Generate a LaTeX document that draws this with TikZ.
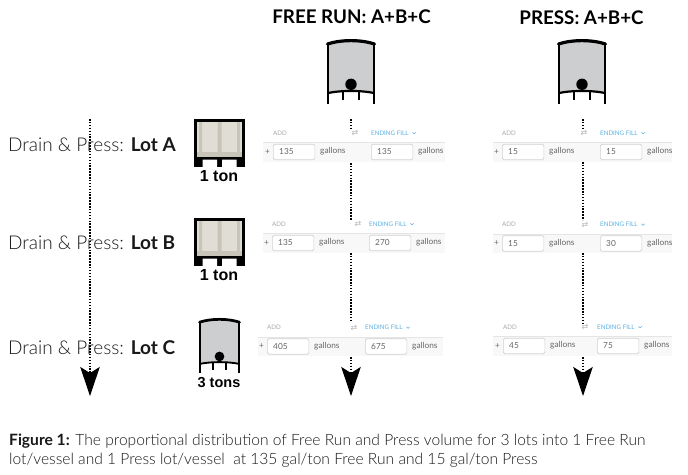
\documentclass[tikz,border=0pt]{standalone}
\usepackage{fontspec}
\setmainfont{Lato}
\newfontfamily\lightf{Lato Light}
\newfontfamily\arialf{Liberation Sans}
\newfontfamily\symf{DejaVu Sans}
\usetikzlibrary{arrows.meta}
\definecolor{txtgray}{HTML}{666666}
\definecolor{hdrgray}{HTML}{A8A8A8}
\definecolor{linkblue}{HTML}{5AB0E2}
\definecolor{band}{HTML}{F8F8F8}
\definecolor{tankfill}{HTML}{CDCED0}
\definecolor{totefill}{HTML}{E0DDD5}
\definecolor{toteedge}{HTML}{C8C5B8}
\def\tw{1}
\tikzset{
  x=1pt,y=-1pt,
  title/.style={font=\bfseries\fontsize{18.8}{22}\selectfont,text=black,inner sep=0pt},
  lotlabel/.style={font=\lightf\fontsize{19}{22}\selectfont,text=black!90,anchor=west,inner sep=0pt},
  tonlabel/.style={font=\arialf\bfseries\fontsize{16}{17}\selectfont,text=black,inner sep=0pt},
  hdr/.style={font=\fontsize{6.2}{7}\selectfont,text=hdrgray,anchor=west,inner sep=0pt},
  fillhdr/.style={font=\fontsize{6.2}{7}\selectfont,text=linkblue,anchor=west,inner sep=0pt},
  formtxt/.style={font=\fontsize{8.3}{9}\selectfont,text=txtgray,anchor=west,inner sep=0pt},
  inputbox/.style={draw=black!18,fill=white,rounded corners=1.5pt,line width=.7pt,minimum width=41.5pt,minimum height=15.5pt,anchor=west,inner sep=0pt},
  dots/.style={line width=1.5pt,dash pattern=on 1.5pt off 1.4pt,black},
  dotarrow/.style={dots,-{Stealth[length=29pt,width=19.5pt,inset=6pt,sep=0pt]}},
  caption/.style={font=\lightf\fontsize{15.6}{21}\selectfont,text=black!90,anchor=west,inner sep=0pt},
  pics/tank/.style={code={
    \fill[tankfill] (-23,-28) .. controls (-10,-32) and (10,-32) .. (23,-28) -- (23,21) .. controls (10,18.3) and (-10,18.3) .. (-23,21) -- cycle;
    \draw[line width=\tw*2.8pt,black] (-23,31.5) -- (-23,-28) (23,-28) -- (23,31.5);
    \draw[line width=\tw*3.2pt,black,line cap=round] (-23.5,-28) .. controls (-10,-32.5) and (10,-32.5) .. (23.5,-28);
    \draw[line width=\tw*2.2pt,black] (-23,21) .. controls (-10,18.3) and (10,18.3) .. (23,21);
    \draw[line width=\tw*2.3pt,black] (-8,19.5) -- (-8,28) (8,19.5) -- (8,28);
    \fill[black] (0,12.3) circle (5.7);
  }},
  pics/tote/.style={code={
    \fill[black] (-25.5,-23) rectangle (25.5,24.5);
    \fill[totefill] (-22.5,-20) rectangle (22.5,15.2);
    \fill[toteedge] (-22.5,10) rectangle (22.5,15.2);
    \fill[toteedge] (-20.5,-20) rectangle (-17.5,10) (17.5,-20) rectangle (20.5,10) (-2,-20) rectangle (2,10);
    \fill[white] (-17,17.5) rectangle (-2.5,25) (2.5,17.5) rectangle (17,25);
  }},
}
\newcommand{\formrow}[9]{%
  % #1 name, #2 band left, #3 band right, #4 centre y, #5 input1 x, #6 input2 x, #7 val1, #8 val2, #9 swap icon x
  \fill[band] (#2,#4-9.5) rectangle (#3,#4+9.5);
  \draw[black!10,line width=.6pt] (#2,#4-9.5) -- (#3,#4-9.5);
  \node[hdr] (#1add) at (#5,#4-19) {ADD};
  \node[fillhdr] (#1end) at (#6,#4-19) {ENDING FILL};
  \draw[linkblue,line width=.5pt] ([xshift=4pt,yshift=.7pt]#1end.east) -- ++(1.5,1.5) -- ++(1.5,-1.5);
  \node[font=\symf\fontsize{8}{8}\selectfont,text=hdrgray!80,inner sep=0pt] (#1swap) at (#9,#4-19) {⇄};
  \node[formtxt] (#1plus) at (#5-8,#4) {+};
  \node[inputbox] (#1in) at (#5,#4) {};
  \node[formtxt] (#1inv) at (#5+6,#4) {#7};
  \node[formtxt] (#1gal) at (#5+47,#4-.5) {gallons};
  \node[inputbox] (#1out) at (#6,#4) {};
  \node[formtxt] (#1outv) at (#6+6,#4) {#8};
  \node[formtxt] (#1galb) at (#6+47,#4-.5) {gallons};
}
\begin{document}
\begin{tikzpicture}
\useasboundingbox (0,0) rectangle (688,474);
\fill[white] (0,0) rectangle (688,474);
\node[title] (tfr) at (351.5,17) {FREE RUN: A+B+C};
\node[title] (tpr) at (581.5,18) {PRESS: A+B+C};
\pic at (351,72) {tank};
\pic at (582,72) {tank};
% forms
\formrow{fa}{263}{445}{152}{273}{371}{135}{135}{355}
\formrow{fb}{263}{445}{243}{272}{369}{135}{270}{358}
\formrow{fc}{258}{443}{346.5}{267}{365}{405}{675}{354}
\formrow{pa}{493}{672}{152}{502}{600}{15}{15}{584}
\formrow{pb}{493}{672}{243.5}{502}{600}{15}{30}{585}
\formrow{pc}{493}{672}{346}{503}{597}{45}{75}{585}
% connectors
\coordinate (ls) at (90,119);
\coordinate (le) at (90,396);
\draw[dotarrow] (ls) -- (le);
\coordinate (f0) at (351,119);
\coordinate (f1) at (351,129);
\coordinate (f2) at (351,163);
\coordinate (f3) at (351,220);
\coordinate (f4) at (351,253);
\coordinate (f5) at (351,322);
\coordinate (f6) at (351,357);
\coordinate (f9) at (351,396);
\draw[dots] (f0) -- (f1);
\draw[dots] (f2) -- (f3);
\draw[dots] (f4) -- (f5);
\draw[dotarrow] (f6) -- (f9);
\coordinate (p0) at (583,119);
\coordinate (p1) at (583,129);
\coordinate (p2) at (583,162);
\coordinate (p3) at (583,220);
\coordinate (p4) at (583,253);
\coordinate (p5) at (583,323);
\coordinate (p6) at (583,357);
\coordinate (p9) at (583,396);
\draw[dots] (p0) -- (p1);
\draw[dots] (p2) -- (p3);
\draw[dots] (p4) -- (p5);
\draw[dotarrow] (p6) -- (p9);
% left column
\node[lotlabel] (la) at (8,145) {Drain \& Press: {\normalfont\bfseries Lot A}};
\node[lotlabel] (lb) at (8,243) {Drain \& Press: {\normalfont\bfseries Lot B}};
\node[lotlabel] (lc) at (8,348) {Drain \& Press: {\normalfont\bfseries Lot C}};
\pic at (219.5,142) {tote};
\pic at (219.5,241) {tote};
\node[tonlabel] (ta) at (219,176.5) {1 ton};
\node[tonlabel] (tb) at (219,275.5) {1 ton};
\begin{scope}[shift={(219.5,346)},scale=.85]
\def\tw{.85}
\pic[transform shape] at (0,0) {tank};
\end{scope}
\node[tonlabel,font=\arialf\bfseries\fontsize{14.5}{15}\selectfont] (tc) at (219,383) {3 tons};
% caption
\node[caption] (c1) at (9,441) {{\normalfont\bfseries Figure 1:} The proportional distribution of Free Run and Press volume for 3 lots into 1 Free Run};
\node[caption] (c2) at (9,460) {lot/vessel and 1 Press lot/vessel\ \ at 135 gal/ton Free Run and 15 gal/ton Press};
\end{tikzpicture}
\end{document}
